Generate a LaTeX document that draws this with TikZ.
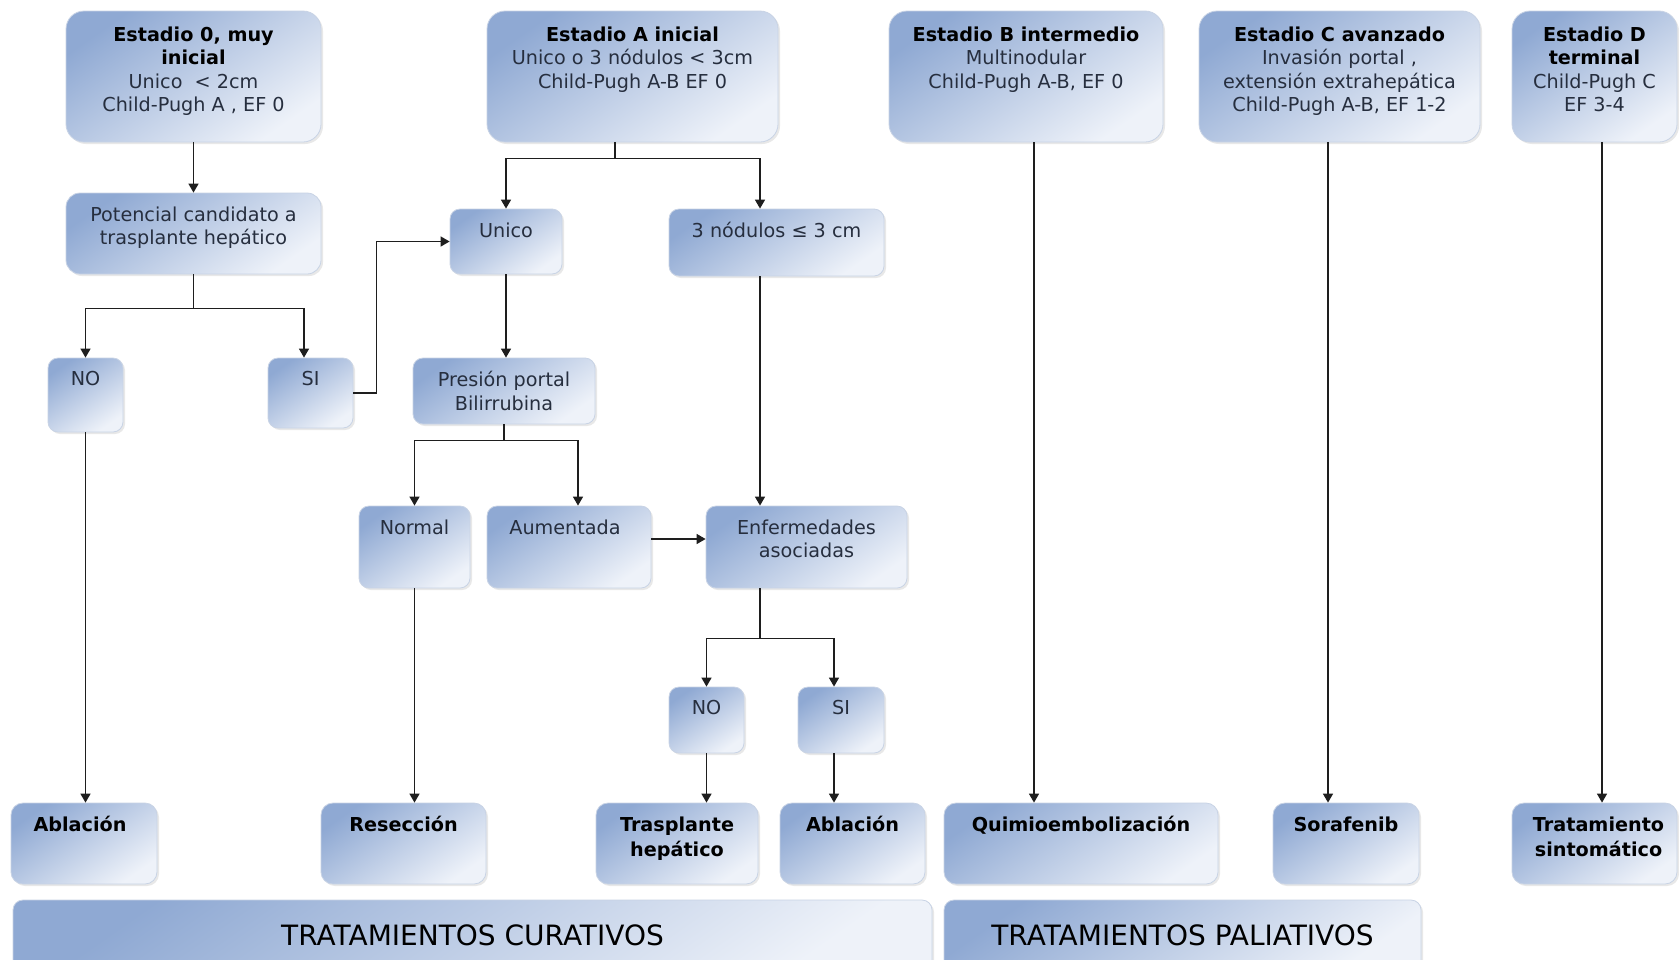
\documentclass[tikz,border=0pt]{standalone}
\usepackage{fontspec}
\setmainfont{DejaVu Sans}
\usetikzlibrary{arrows.meta, shadows}
\definecolor{boxdark}{RGB}{143,169,211}
\definecolor{boxlight}{RGB}{238,242,249}
\definecolor{boxedge}{RGB}{200,211,229}
\definecolor{txtcol}{RGB}{38,46,62}
\definecolor{linecol}{RGB}{30,30,30}
\newcommand{\stitle}[1]{\textcolor{black}{\textbf{#1}}}

\begin{document}
\begin{tikzpicture}[
    x=0.5pt, y=-0.5pt,
    bx/.style={
        rectangle, rounded corners=5pt,
        draw=boxedge, line width=0.4pt,
        top color=boxdark, bottom color=boxlight, shading angle=35,
        drop shadow={shadow xshift=1pt, shadow yshift=-1pt, opacity=0.18},
        inner sep=0pt
    },
    big/.style={bx, rounded corners=9pt, minimum height=65.5pt},
    low/.style={bx, rounded corners=6pt, minimum height=40.5pt},
    txt/.style={
        anchor=north, inner sep=0pt, yshift=-6.8pt,
        align=center, text=txtcol,
        font=\fontsize{9.6}{11.8}\selectfont
    },
    ttxt/.style={txt, yshift=-1pt},
    rtxt/.style={txt, text=black, font=\fontsize{9.6}{12.5}\selectfont\bfseries},
    bar/.style={bx, rounded corners=5pt, minimum height=35pt,
        text=black, font=\fontsize{14}{16}\selectfont},
    arr/.style={-{Triangle[length=4.5pt, width=5pt]}, line width=0.75pt, draw=linecol}
]
\useasboundingbox (0,0) rectangle (1679,959);
\fill[white] (0,0) rectangle (1679,959);
\clip (0,0) rectangle (1679,959);

% estadios
\node[big, minimum width=127.5pt, label={[ttxt]north:{\stitle{Estadio 0, muy}\\\stitle{inicial}\\Unico\ \ < 2cm\\Child-Pugh A , EF 0}}] (e0) at (193.5,76.5) {};
\node[big, minimum width=145.5pt, label={[ttxt]north:{\stitle{Estadio A inicial}\\Unico o 3 nódulos < 3cm\\Child-Pugh A-B EF 0}}] (ea) at (632.5,76.5) {};
\node[big, minimum width=137pt, label={[ttxt]north:{\stitle{Estadio B intermedio}\\Multinodular\\Child-Pugh A-B, EF 0}}] (eb) at (1026,76.5) {};
\node[big, minimum width=140.5pt, label={[ttxt]north:{\stitle{Estadio C avanzado}\\Invasión portal ,\\extensión extrahepática\\Child-Pugh A-B, EF 1-2}}] (ec) at (1339.5,76.5) {};
\node[big, minimum width=82.5pt, label={[ttxt]north:{\stitle{Estadio D}\\\stitle{terminal}\\Child-Pugh C\\EF 3-4}}] (ed) at (1594.5,76.5) {};

% decisiones
\node[bx, minimum width=127.5pt, minimum height=40.5pt, rounded corners=7pt, label={[txt]north:{Potencial candidato a\\trasplante hepático}}] (pot) at (193.5,233.5) {};
\node[bx, minimum width=37.5pt, minimum height=37pt, label={[txt]north:{NO}}] (no1) at (85.5,395) {};
\node[bx, minimum width=42.5pt, minimum height=35pt, label={[txt]north:{SI}}] (si1) at (310.5,393) {};
\node[bx, minimum width=56pt, minimum height=32.5pt, label={[txt]north:{Unico}}] (unico) at (506,241.5) {};
\node[bx, minimum width=107.5pt, minimum height=33.5pt, label={[txt]north:{3 nódulos ≤ 3 cm}}] (nod3) at (776.5,242.5) {};
\node[bx, minimum width=91pt, minimum height=33pt, label={[txt]north:{Presión portal\\Bilirrubina}}] (pres) at (504,391) {};
\node[bx, minimum width=55.5pt, minimum height=41pt, label={[txt]north:{Normal}}] (normal) at (414.5,547) {};
\node[bx, minimum width=82pt, minimum height=41pt, label={[txt, xshift=-2pt]north:{Aumentada}}] (aum) at (569,547) {};
\node[bx, minimum width=100.5pt, minimum height=41pt, label={[txt]north:{Enfermedades\\asociadas}}] (enf) at (806.5,547) {};
\node[bx, minimum width=37.5pt, minimum height=33pt, label={[txt]north:{NO}}] (no2) at (706.5,720) {};
\node[bx, minimum width=43pt, minimum height=33pt, label={[txt]north:{SI}}] (si2) at (841,720) {};

% tratamientos
\node[low, minimum width=73pt, label={[rtxt, xshift=-2pt]north:{Ablación}}] (abl1) at (84,843.5) {};
\node[low, minimum width=82.5pt, label={[rtxt]north:{Resección}}] (resec) at (403.5,843.5) {};
\node[low, minimum width=81pt, label={[rtxt]north:{Trasplante\\hepático}}] (tras) at (677,843.5) {};
\node[low, minimum width=72.5pt, label={[rtxt]north:{Ablación}}] (abl2) at (852.5,843.5) {};
\node[low, minimum width=137pt, label={[rtxt]north:{Quimioembolización}}] (quim) at (1081,843.5) {};
\node[low, minimum width=73pt, label={[rtxt]north:{Sorafenib}}] (sora) at (1346,843.5) {};
\node[low, minimum width=82.5pt, label={[rtxt, xshift=2pt]north:{Tratamiento\\sintomático}}] (trat) at (1594.5,843.5) {};

\node[bar, minimum width=459.5pt] (cur) at (472.5,935) {TRATAMIENTOS CURATIVOS};
\node[bar, minimum width=238.5pt] (pal) at (1182.5,935) {TRATAMIENTOS PALIATIVOS};

% conectores
\draw[arr] (e0) -- (pot);
\draw[arr] (pot.south) -- ++(0,34) -| (no1.north);
\draw[arr] (pot.south) -- ++(0,34) -| ([xshift=-3.25pt]si1.north);
\draw[arr] (si1.east) -- ++(23,0) |- (unico.west);
\draw[arr] ([xshift=-8.75pt]ea.south) -- ++(0,16) -| (unico.north);
\draw[arr] ([xshift=-8.75pt]ea.south) -- ++(0,16) -| ([xshift=-8.25pt]nod3.north);
\draw[arr] (unico.south) -- (unico.south |- pres.north);
\draw[arr] (pres.south) -- ++(0,16) -| (normal.north);
\draw[arr] (pres.south) -- ++(0,16) -| ([xshift=4.5pt]aum.north);
\draw[arr] ([xshift=-8.25pt]nod3.south) -- ([xshift=-8.25pt]nod3.south |- enf.north);
\draw[arr] ([yshift=4pt]aum.east) -- ([yshift=4pt]aum.east -| enf.west);
\draw[arr] ([xshift=-23.25pt]enf.south) -- ++(0,50) -| (no2.north);
\draw[arr] ([xshift=-23.25pt]enf.south) -- ++(0,50) -| ([xshift=-3.5pt]si2.north);
\draw[arr] (no2.south) -- (no2.south |- tras.north);
\draw[arr] ([xshift=-3.5pt]si2.south) -- ([xshift=-3.5pt]si2.south |- abl2.north);
\draw[arr] (no1.south) -- (no1.south |- abl1.north);
\draw[arr] (normal.south) -- (normal.south |- resec.north);
\draw[arr] ([xshift=4pt]eb.south) -- ([xshift=4pt]eb.south |- quim.north);
\draw[arr] ([xshift=-5.75pt]ec.south) -- ([xshift=-5.75pt]ec.south |- sora.north);
\draw[arr] ([xshift=3.75pt]ed.south) -- ([xshift=3.75pt]ed.south |- trat.north);

\end{tikzpicture}
\end{document}
